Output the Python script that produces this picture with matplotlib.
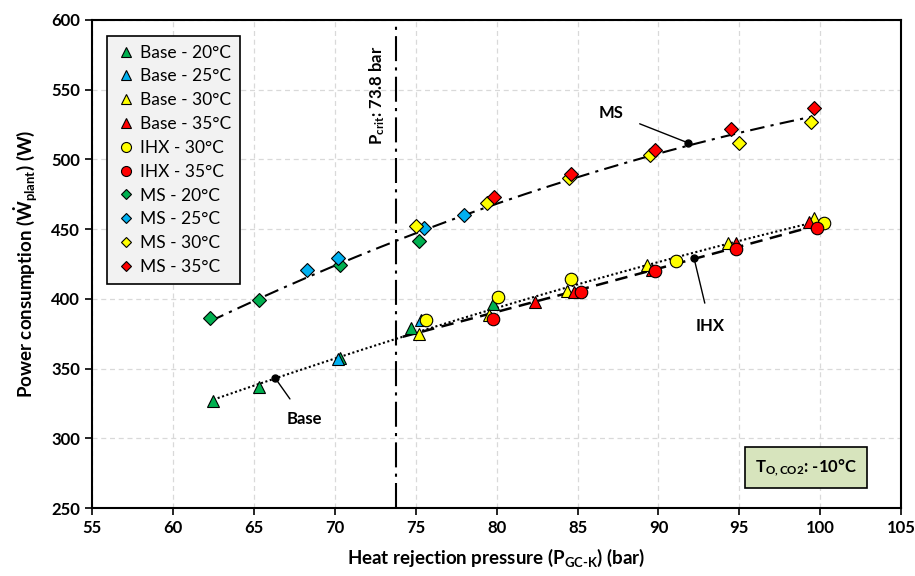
import numpy as np
import matplotlib
matplotlib.use('Agg')
import matplotlib.pyplot as plt

plt.rcParams['font.family'] = ['Lato', 'DejaVu Sans']
plt.rcParams['mathtext.fontset'] = 'custom'
plt.rcParams['mathtext.rm'] = 'Lato:bold'
plt.rcParams['mathtext.bf'] = 'Lato:bold'
plt.rcParams['mathtext.it'] = 'Lato:bold'

# 数据 (压力 bar, 功率 W)
base20_p = [62.5, 65.3, 70.3, 74.7, 79.8]
base20_w = [327, 336.5, 357.5, 379, 396]
base25_p = [70.2, 75.3]
base25_w = [357, 385]
base30_p = [75.2, 79.5, 84.35, 89.3, 94.3, 99.6]
base30_w = [375, 388.5, 406, 424, 440, 458]
base35_p = [82.4, 84.8, 89.6, 94.8, 99.3]
base35_w = [398, 405, 421, 440, 455]
ihx30_p = [75.65, 80.1, 84.6, 91.1, 100.2]
ihx30_w = [385, 401, 414, 427, 454.5]
ihx35_p = [79.8, 85.2, 89.8, 94.8, 99.8]
ihx35_w = [385.5, 405, 420, 436, 451]
ms20_p = [62.3, 65.3, 70.3, 75.2]
ms20_w = [386, 399, 424.5, 441.5]
ms25_p = [68.3, 70.2, 75.5, 78.0]
ms25_w = [420.5, 429.5, 451, 460]
ms30_p = [75.0, 79.4, 84.5, 89.5, 95.0, 99.45]
ms30_w = [452, 469, 487, 503, 512, 526.5]
ms35_p = [79.85, 84.6, 89.8, 94.5, 99.6]
ms35_w = [473, 489.5, 506.5, 522, 537]

# 趋势线读点
ms_line_p = [62.3, 65.4, 70.2, 73.8, 78.0, 84.5, 89.5, 91.8, 95.0, 99.5]
ms_line_w = [385, 399.5, 424, 443, 459, 485, 503, 511, 519, 530]
base_line_p = [62.5, 66.3, 70.3, 73.8, 78.9, 85.0, 92.0, 99.3]
base_line_w = [327, 343.5, 358, 372, 390.5, 410, 431, 455]
ihx_line_p = [74.2, 78.9, 85.0, 92.2, 99.3]
ihx_line_w = [373, 387, 406, 429, 451]

green = '#00b050'
blue = '#00b0f0'
yellow = '#ffff00'
red = '#ff0000'

fig = plt.figure(figsize=(9.15, 5.76), dpi=100)
ax = fig.add_axes([0.1005, 0.118, 0.8845, 0.8473])


def fit(px, wx):
    c = np.polyfit(px, wx, 2)
    xs = np.linspace(min(px), max(px), 200)
    return xs, np.polyval(c, xs)


xs, ys = fit(ms_line_p, ms_line_w)
ax.plot(xs, ys, color='black', lw=1.5, dashes=[7, 3, 1.5, 3], zorder=2)
xs, ys = fit(base_line_p, base_line_w)
ax.plot(xs, ys, color='black', lw=1.5, linestyle=(0, (1, 1.2)), zorder=2)
xs, ys = fit(ihx_line_p, ihx_line_w)
ax.plot(xs, ys, color='black', lw=1.8, linestyle=(0, (5, 3)), zorder=2)

# 临界压力线
ax.axvline(73.8, color='black', lw=1.5, dashes=[12, 3, 1.5, 3], zorder=2)
ax.text(72.6, 546, r'P$_{\mathrm{crit}}$: 73.8 bar', rotation=90, ha='center', va='center',
        fontsize=12, fontweight='bold')

ms = 9
ax.plot(base20_p, base20_w, '^', color=green, mec='black', mew=0.8, ms=ms, ls='none', label='Base - 20°C', zorder=3)
ax.plot(base25_p, base25_w, '^', color=blue, mec='black', mew=0.8, ms=ms, ls='none', label='Base - 25°C', zorder=3)
ax.plot(base30_p, base30_w, '^', color=yellow, mec='black', mew=0.8, ms=ms, ls='none', label='Base - 30°C', zorder=3)
ax.plot(base35_p, base35_w, '^', color=red, mec='black', mew=0.8, ms=ms, ls='none', label='Base - 35°C', zorder=3)
ax.plot(ihx30_p, ihx30_w, 'o', color=yellow, mec='black', mew=0.8, ms=ms, ls='none', label='IHX - 30°C', zorder=3)
ax.plot(ihx35_p, ihx35_w, 'o', color=red, mec='black', mew=0.8, ms=ms, ls='none', label='IHX - 35°C', zorder=3)
ax.plot(ms20_p, ms20_w, 'D', color=green, mec='black', mew=0.8, ms=7, ls='none', label='MS - 20°C', zorder=3)
ax.plot(ms25_p, ms25_w, 'D', color=blue, mec='black', mew=0.8, ms=7, ls='none', label='MS - 25°C', zorder=3)
ax.plot(ms30_p, ms30_w, 'D', color=yellow, mec='black', mew=0.8, ms=7, ls='none', label='MS - 30°C', zorder=3)
ax.plot(ms35_p, ms35_w, 'D', color=red, mec='black', mew=0.8, ms=7, ls='none', label='MS - 35°C', zorder=3)

# 标注
ax.plot([91.8, 66.3, 92.2], [512, 343.5, 429], 'o', color='black', ms=5, zorder=4)
ax.annotate('MS', xy=(91.8, 512), xytext=(87.1, 533.5), ha='center', va='center',
            fontsize=12, fontweight='bold', arrowprops=dict(arrowstyle='-', color='black', lw=1, shrinkA=10, shrinkB=0))
ax.annotate('Base', xy=(66.3, 343.5), xytext=(68.1, 314), ha='center', va='center',
            fontsize=12, fontweight='bold', arrowprops=dict(arrowstyle='-', color='black', lw=1, shrinkA=8, shrinkB=0))
ax.annotate('IHX', xy=(92.2, 429), xytext=(93.2, 380.5), ha='center', va='center',
            fontsize=12, fontweight='bold', arrowprops=dict(arrowstyle='-', color='black', lw=1, shrinkA=9, shrinkB=0))

ax.text(99.1, 279, r'T$_{\mathrm{O,CO2}}$: -10°C', ha='center', va='center', fontsize=12, fontweight='bold',
        bbox=dict(boxstyle='square,pad=0.6', facecolor='#d7e4bd', edgecolor='black', lw=1.2))

ax.set_xlim(55, 105)
ax.set_ylim(250, 600)
ax.set_xticks(np.arange(55, 106, 5))
ax.set_yticks(np.arange(250, 601, 50))
ax.grid(True, color='#d9d9d9', linestyle=(0, (4, 3)), lw=0.9)
ax.set_axisbelow(True)
for s in ax.spines.values():
    s.set_linewidth(1.5)
    s.set_color('black')
ax.tick_params(labelsize=12, width=1.2, length=5, direction='out')
for lab in ax.get_xticklabels() + ax.get_yticklabels():
    lab.set_fontweight('bold')

ax.set_xlabel(r'Heat rejection pressure (P$_{\mathrm{GC\text{-}K}}$) (bar)', fontsize=13.5, fontweight='bold', labelpad=8)
ax.set_ylabel(r'Power consumption ($\dot{\mathrm{W}}_{\mathrm{plant}}$) (W)', fontsize=13.5, fontweight='bold', labelpad=8)

leg = ax.legend(loc='upper left', bbox_to_anchor=(0.0075, 0.985), fontsize=12.5, frameon=True, fancybox=False,
                handletextpad=0.2, handlelength=1.2, borderpad=0.5, labelspacing=0.45, markerscale=0.8)
leg.get_frame().set_facecolor('#f2f2f2')
leg.get_frame().set_edgecolor('black')
leg.get_frame().set_linewidth(1.2)
leg.get_frame().set_alpha(1)

plt.savefig('out.png', dpi=100)
